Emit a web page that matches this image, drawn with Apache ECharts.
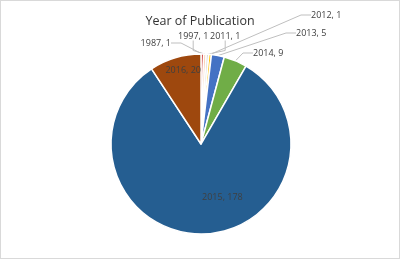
<!DOCTYPE html>
<html>
<head>
<meta charset="utf-8">
<script src="https://cdn.jsdelivr.net/npm/echarts@6/dist/echarts.min.js"></script>
<style>
html,body{margin:0;padding:0;background:#fff;}
#c{position:absolute;left:0;top:0;width:398px;height:257px;border:1px solid #d9d9d9;}
</style>
</head>
<body>
<div id="c"></div>
<script>
var titleText = 'Year of Publication';
var years = ['1987', '1997', '2011', '2012', '2013', '2014', '2015', '2016'];
var counts = [1, 1, 1, 1, 5, 9, 178, 20];
var colors = ['#C00000', '#F8CBAD', '#D9D9D9', '#FFC000', '#4472C4', '#70AD47', '#255E91', '#9E480E'];
// label placement (layout only): [x, y, align]
var labelPlace = {
  '1987': [170, 42, 'right'],
  '1997': [177, 35, 'left'],
  '2011': [209, 35, 'left'],
  '2012': [310, 14, 'left'],
  '2013': [295, 32, 'left'],
  '2014': [252, 52, 'left']
};

var chart = echarts.init(document.getElementById('c'), null, {renderer: 'canvas'});
var data = years.map(function (y, i) {
  var d = {name: y, value: counts[i], itemStyle: {color: colors[i]}};
  if (y === '2015') {
    d.label = {position: 'inside', offset: [20, 5]};
    d.labelLine = {show: false};
  } else if (y === '2016') {
    d.label = {position: 'inside', offset: [-4, -28]};
    d.labelLine = {show: false};
  }
  return d;
});
chart.setOption({
  animation: false,
  title: {
    text: titleText, left: 'center', top: 9,
    textStyle: {fontFamily: 'Open Sans', fontSize: 12.5, fontWeight: 'normal', color: '#333'}
  },
  series: [{
    type: 'pie',
    center: [200, 143],
    radius: [0, 90],
    startAngle: 90,
    clockwise: true,
    avoidLabelOverlap: false,
    data: data,
    itemStyle: {borderColor: '#fff', borderWidth: 1.5},
    label: {
      formatter: '{b}, {c}',
      fontFamily: 'Open Sans', fontSize: 9, color: '#404040'
    },
    labelLine: {
      show: true, length: 10, length2: 10,
      lineStyle: {color: '#bfbfbf', width: 1}
    },
    labelLayout: function (params) {
      var p = labelPlace[years[params.dataIndex]];
      if (!p) return {};
      return {x: p[0], y: p[1], align: p[2], verticalAlign: 'middle'};
    }
  }]
});
</script>
</body>
</html>
